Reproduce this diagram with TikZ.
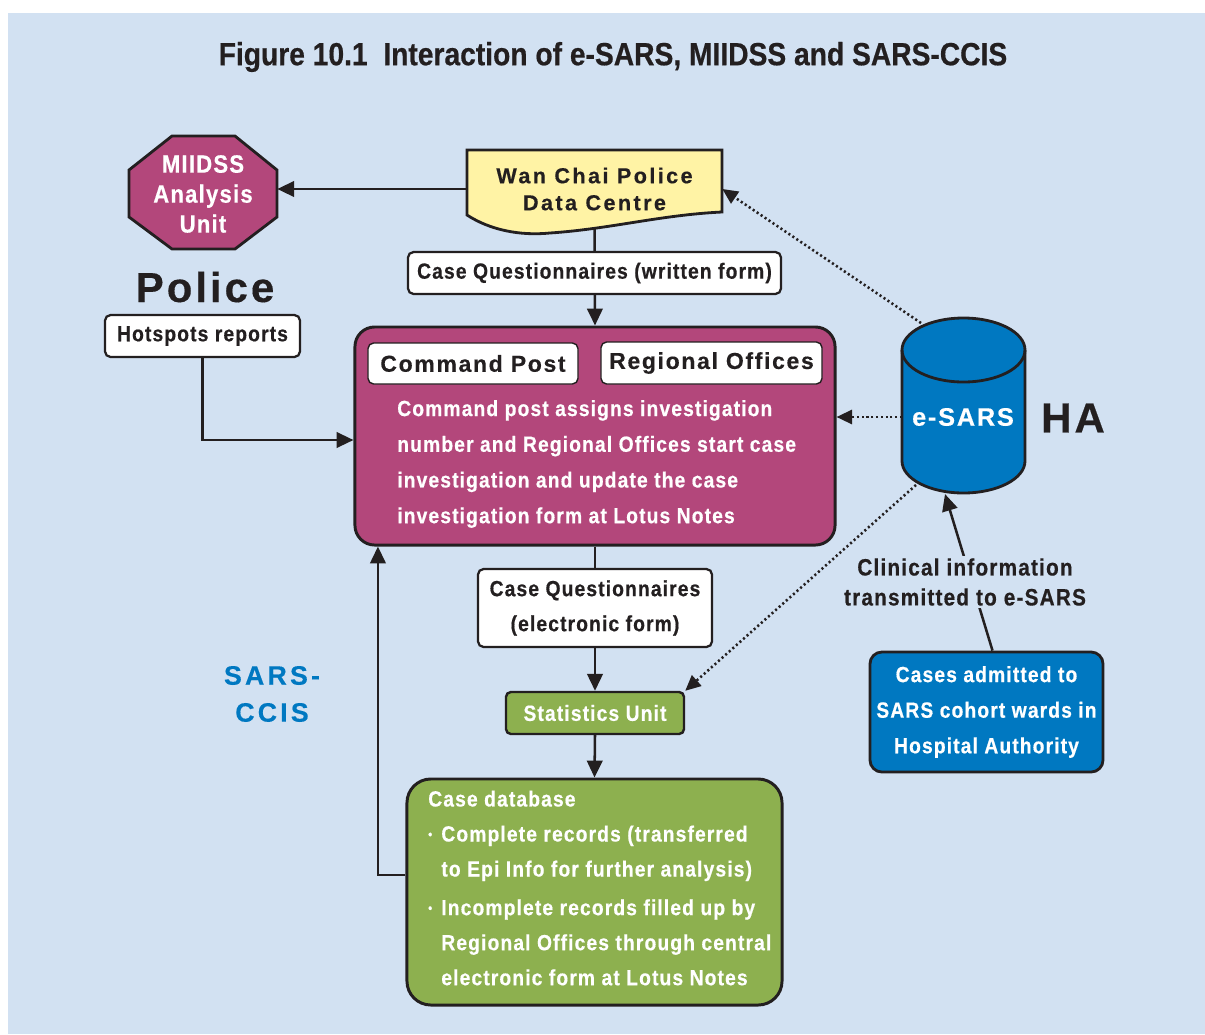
\documentclass[tikz,border=0pt]{standalone}
\usepackage{fontspec}
\setmainfont{Liberation Sans}
\newfontfamily\condf{Liberation Sans}[FakeStretch=0.88,LetterSpace=5,FakeBold=0.5]
\newfontfamily\titf{Liberation Sans}[FakeStretch=0.88,FakeBold=0.5]
\newfontfamily\widef{Liberation Sans}[LetterSpace=7,FakeBold=0.3]
\newfontfamily\wcf{Liberation Sans}[LetterSpace=11,FakeBold=0.4]
\newfontfamily\ccisf{Liberation Sans}[LetterSpace=12,FakeBold=0.3]
\usetikzlibrary{arrows.meta,calc}
\pgfdeclarelayer{bglayer}
\pgfdeclarelayer{linelayer}
\pgfsetlayers{bglayer,linelayer,main}
\newcommand\pxu{0.7113pt}
\newcommand\bul{\makebox[9.3pt][l]{\raisebox{2pt}{\fontsize{9}{9}\selectfont\textbullet}}}
\definecolor{bgblue}{HTML}{D2E1F2}
\definecolor{linec}{HTML}{231F20}
\definecolor{mag}{HTML}{B3477B}
\definecolor{yel}{HTML}{FFF3A5}
\definecolor{grn}{HTML}{8DB04F}
\definecolor{esblue}{HTML}{0078C1}
\tikzset{
  lbl/.style={draw=linec, line width=1.6pt, rounded corners=4pt, fill=white, inner sep=0pt,
    text=linec, font=\condf\bfseries\fontsize{15.6}{24.9}\selectfont, align=center},
  hdr/.style={draw=linec, line width=1pt, rounded corners=4pt, fill=white, inner sep=0pt,
    text=linec, font=\widef\bfseries\fontsize{16.4}{20}\selectfont},
  conn/.style={draw=linec, line width=1.8pt, -{Triangle[length=12pt,width=11pt]}},
  solidline/.style={draw=linec, line width=1.8pt},
  dconn/.style={draw=linec, line width=1.8pt, dash pattern=on 1.5pt off 1.9pt, -{Triangle[length=11pt,width=10pt]}},
  wtxt/.style={text=white, font=\condf\bfseries\fontsize{15.6}{25.4}\selectfont, inner sep=0pt, align=left},
}
\begin{document}
\begin{tikzpicture}[x=0.025cm, y=0.025cm]
\useasboundingbox (0,0) rectangle (1205,-1034);
\begin{pgfonlayer}{bglayer}
  \fill[white] (0,0) rectangle (1205,-1034);
  \fill[bgblue] (8,-13) rectangle (1205,-1034);
\end{pgfonlayer}

% title
\node[font=\titf\bfseries\fontsize{22.8}{26}\selectfont, text=linec, inner sep=0pt] (title) at (613,-57)
  {Figure 10.1\ \ Interaction of e-SARS, MIIDSS and SARS-CCIS};

% MIIDSS octagon
\filldraw[fill=mag, draw=linec, line width=2pt] (172,-136) -- (235,-136) -- (277,-170) -- (277,-217)
  -- (235,-249) -- (172,-249) -- (129,-217) -- (129,-170) -- cycle;
\node[minimum width=148*\pxu, minimum height=113*\pxu, inner sep=0pt, align=center, text=white,
  font=\condf\bfseries\fontsize{17.8}{21.3}\selectfont] (miidss) at (203,-194) {MIIDSS\\Analysis\\Unit};

% Wan Chai Police Data Centre
\filldraw[fill=yel, draw=linec, line width=2pt] (467,-150) -- (722,-150) -- (722,-212)
  .. controls (660,-215) and (610,-229) .. (550,-233)
  .. controls (520,-236) and (490,-230) .. (467,-215) -- cycle;
\node[minimum width=255*\pxu, minimum height=76*\pxu, inner sep=0pt, align=center, text=linec,
  font=\wcf\bfseries\fontsize{15.4}{19.2}\selectfont] (wc) at (594.5,-189) {Wan Chai Police\\Data Centre};

\node[lbl, minimum width=373*\pxu, minimum height=42*\pxu] (writ) at (594.5,-273) {Case Questionnaires (written form)};

% Police
\node[font=\widef\bfseries\fontsize{29.9}{32}\selectfont, text=linec, inner sep=0pt] (police) at (205,-287) {Police};
\node[lbl, minimum width=195*\pxu, minimum height=42*\pxu] (hot) at (202.5,-336) {Hotspots reports};

% Command box
\node[draw=linec, fill=mag, line width=2.1pt, rounded corners=14pt, minimum width=480*\pxu,
  minimum height=218*\pxu, inner sep=0pt] (cmd) at (595,-436) {};
\node[hdr, minimum width=210*\pxu, minimum height=41*\pxu] (cpost) at (473,-363.5) {Command Post};
\node[hdr, minimum width=221*\pxu, minimum height=42*\pxu] (regoff) at (711.5,-363) {Regional Offices};
\node[wtxt, anchor=west] (cmdtext) at (397,-464) {Command post assigns investigation\\
  number and Regional Offices start case\\investigation and update the case\\investigation form at Lotus Notes};

% electronic form
\node[lbl, minimum width=234*\pxu, minimum height=78*\pxu] (elec) at (595,-608) {Case Questionnaires\\(electronic form)};

% Statistics
\node[draw=linec, fill=grn, line width=1.7pt, rounded corners=3.5pt, minimum width=178*\pxu,
  minimum height=42*\pxu, inner sep=0pt, text=white, font=\condf\bfseries\fontsize{15.6}{20}\selectfont]
  (stat) at (595,-713) {Statistics Unit};

% Case database
\node[draw=linec, fill=grn, line width=2.1pt, rounded corners=17pt, minimum width=375*\pxu,
  minimum height=226*\pxu, inner sep=0pt] (cdb) at (594.5,-892) {};
\node[wtxt, anchor=west, font=\condf\bfseries\fontsize{15.6}{24.9}\selectfont] (cdbtext) at (428,-888)
  {Case database\\
   \bul Complete records (transferred\\
   \hspace*{9.3pt}to Epi Info for further analysis)\\[2.6pt]
   \bul Incomplete records filled up by\\
   \hspace*{9.3pt}Regional Offices through central\\
   \hspace*{9.3pt}electronic form at Lotus Notes};

% SARS-CCIS
\node[align=center, text=esblue, inner sep=0pt, font=\ccisf\bfseries\fontsize{19}{26.3}\selectfont]
  (ccis) at (272,-694) {SARS-\\CCIS};

% e-SARS cylinder
\filldraw[fill=esblue, draw=linec, line width=2pt] (902,-350) -- (902,-461)
  arc[start angle=180, end angle=360, x radius=61.5, y radius=32] -- (1025,-350)
  arc[start angle=0, end angle=180, x radius=61.5, y radius=32] -- cycle;
\draw[linec, line width=2pt] (902,-350) arc[start angle=180, end angle=360, x radius=61.5, y radius=32];
\node[text=white, inner sep=0pt, font=\widef\bfseries\fontsize{18}{20}\selectfont] (esars) at (963,-417) {e-SARS};
\node[text=linec, inner sep=0pt, font=\widef\bfseries\fontsize{29.9}{32}\selectfont] (ha) at (1073,-418) {HA};
\coordinate (esTL) at (921,-323);
\coordinate (esL) at (902,-417);
\coordinate (esBL) at (916,-485);
\coordinate (esB) at (945,-494);

% Cases admitted
\node[draw=linec, fill=esblue, line width=2pt, rounded corners=8.5pt, minimum width=233*\pxu,
  minimum height=120*\pxu, inner sep=0pt, align=center, text=white,
  font=\condf\bfseries\fontsize{15.6}{25.3}\selectfont] (cases) at (986.5,-712)
  {Cases admitted to\\SARS cohort wards in\\Hospital Authority};

% clinical label
\node[fill=bgblue, inner sep=2pt, align=center, text=linec,
  font=\condf\bfseries\fontsize{16.8}{21.3}\selectfont] (clin) at (965,-582)
  {Clinical information\\transmitted to e-SARS};

% connectors
\begin{pgfonlayer}{linelayer}
  \draw[conn] (wc.west) -- (wc.west -| miidss.east);
  \draw[conn] (wc.south) -- (cmd.north);
  \draw[conn] (hot.south) |- ([yshift=-4*\pxu]cmd.west);
  \draw[solidline] (cmd.south) -- (elec.north);
  \draw[conn] (elec.south) -- (stat.north);
  \draw[conn] (stat.south) -- (cdb.north);
  \draw[conn] ([yshift=17*\pxu]cdb.west) -| ([xshift=-217*\pxu]cmd.south);
  \draw[dconn] (esTL) -- (wc.east);
  \draw[dconn] (esL) -- (esL -| cmd.east);
  \draw[dconn] (esBL) -- (stat.north east);
  \draw[conn] ([xshift=6*\pxu]cases.north) -- (esB);
\end{pgfonlayer}
\end{tikzpicture}
\end{document}
